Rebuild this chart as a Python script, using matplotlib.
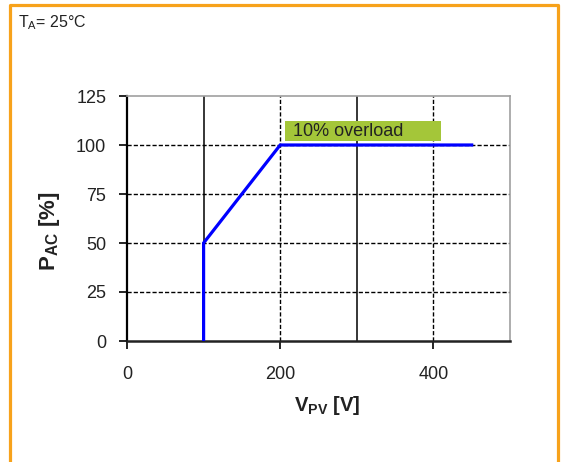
import matplotlib
matplotlib.use("Agg")
import matplotlib.pyplot as plt
from matplotlib.lines import Line2D
from matplotlib.patches import Rectangle

plt.rcParams['font.family'] = ['Liberation Sans', 'DejaVu Sans']
plt.rcParams['mathtext.fontset'] = 'custom'
plt.rcParams['mathtext.rm'] = 'Liberation Sans'
plt.rcParams['mathtext.bf'] = 'Liberation Sans:bold'
plt.rcParams['mathtext.it'] = 'Liberation Sans:italic'

# data
v_pv = [100, 100, 200, 450]
p_ac = [0, 50, 100, 100]
x_ticks = [0, 200, 400]
y_ticks = [0, 25, 50, 75, 100, 125]
solid_vlines = [100, 300]
dashed_vlines = [200, 400]
dashed_hlines = [25, 50, 75, 100]
label_text = '10% overload'

W, H = 566, 462
fig = plt.figure(figsize=(W / 100, H / 100), dpi=100)
ax = fig.add_axes([127 / W, 1 - 341 / H, (510 - 127) / W, (341 - 96) / H])

ax.set_xlim(0, 500)
ax.set_ylim(0, 125)

# grid
for y in dashed_hlines:
    ax.axhline(y, color='black', lw=1.0, ls=(0, (3, 1.5)), zorder=1)
for x in dashed_vlines:
    ax.axvline(x, color='black', lw=1.0, ls=(0, (3, 1.5)), zorder=1)
for x in solid_vlines:
    ax.axvline(x, color='black', lw=1.1, zorder=1)

# curve
ax.plot(v_pv, p_ac, color='#0000ff', lw=2.3, zorder=3, solid_joinstyle='miter')

# overload label box
ax.add_patch(Rectangle((206, 102), 204, 10.2, fc='#a4c639', ec='none', zorder=4))
ax.text(217, 107, label_text, fontsize=13, color='#222222',
        va='center', ha='left', zorder=5)

ax.set_xticks(x_ticks)
ax.set_yticks(y_ticks)
ax.tick_params(axis='both', labelsize=13, length=6, width=1.2, color='black',
               labelcolor='#222222')
ax.tick_params(axis='x', pad=12)
ax.tick_params(axis='y', pad=9)

ax.spines['left'].set_linewidth(1.6)
ax.spines['bottom'].set_linewidth(1.8)
ax.spines['bottom'].set_color('#222222')
ax.spines['top'].set_color('#a0a0a0')
ax.spines['right'].set_color('#a0a0a0')
ax.spines['top'].set_linewidth(1.2)
ax.spines['right'].set_linewidth(1.2)

ax.set_xlabel(r'$\mathbf{V_{PV}\ [V]}$', fontsize=14.5, color='#222222')
ax.xaxis.set_label_coords(0.522, -0.215)
ax.set_ylabel(r'$\mathbf{P_{AC}\ [\%]}$', fontsize=16, color='#222222')
ax.yaxis.set_label_coords(-0.17, 0.45)

fig.text(18 / W, 1 - 23 / H, r'T$_\mathrm{A}$= 25°C', fontsize=11.5,
         va='center', ha='left', color='#222222')

# orange frame
orange = '#f7a21b'
fig.add_artist(Line2D([9.5 / W, 9.5 / W, 558 / W, 558 / W],
                      [0, 1 - 4.5 / H, 1 - 4.5 / H, 0],
                      transform=fig.transFigure, color=orange, lw=2.3))

fig.savefig('out.png', dpi=100)
